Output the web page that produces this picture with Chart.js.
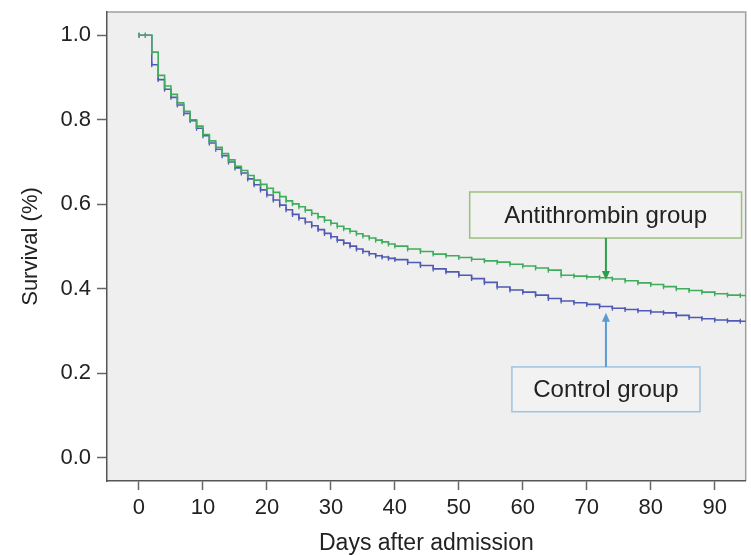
<!DOCTYPE html>
<html>
<head>
<meta charset="utf-8">
<script src="https://cdn.jsdelivr.net/npm/chart.js@4.4.1/dist/chart.umd.min.js"></script>
<style>
  html, body { margin: 0; padding: 0; background: #fff; }
  canvas { display: block; }
</style>
</head>
<body>
<canvas id="km" width="751" height="555"></canvas>
<script>
// follow-up days (step times) shared by both groups
const days = [
  0, 1, 2, 3, 4, 5, 6, 7, 8, 9, 10, 11, 12, 13, 14, 15, 16, 17, 18, 19, 20,
  21, 22, 23, 24, 25, 26, 27, 28, 29, 30, 31, 32, 33, 34, 35, 36, 37, 38, 39, 40,
  42, 44, 46, 48, 50, 52, 54, 56, 58, 60, 62, 64, 66, 68, 70, 72, 74, 76, 78,
  80, 82, 84, 86, 88, 90, 92, 94, 95
];

const antithrombin = [
  1.0, 1.0, 0.96, 0.905, 0.88, 0.86, 0.84, 0.82, 0.80, 0.785, 0.765,
  0.75, 0.735, 0.72, 0.705, 0.69, 0.68, 0.668, 0.657, 0.647, 0.638,
  0.628, 0.618, 0.608, 0.601, 0.594, 0.586, 0.578, 0.570, 0.562, 0.555,
  0.548, 0.542, 0.536, 0.530, 0.525, 0.520, 0.515, 0.511, 0.506, 0.501,
  0.494, 0.488, 0.482, 0.478, 0.474, 0.470, 0.466, 0.463, 0.458, 0.454,
  0.449, 0.444, 0.432, 0.430, 0.428, 0.426, 0.423, 0.419, 0.414, 0.410,
  0.405, 0.400, 0.396, 0.392, 0.388, 0.385, 0.384, 0.383
];

const control = [
  1.0, 1.0, 0.93, 0.895, 0.872, 0.853, 0.835, 0.815, 0.798, 0.78, 0.762,
  0.745, 0.73, 0.715, 0.70, 0.686, 0.674, 0.66, 0.646, 0.634, 0.622,
  0.61, 0.598, 0.587, 0.576, 0.567, 0.558, 0.549, 0.540, 0.531, 0.523,
  0.515, 0.508, 0.501, 0.494, 0.488, 0.483, 0.478, 0.475, 0.472, 0.469,
  0.462, 0.455, 0.447, 0.440, 0.432, 0.424, 0.415, 0.404, 0.397, 0.392,
  0.385, 0.377, 0.371, 0.367, 0.363, 0.358, 0.354, 0.351, 0.348, 0.345,
  0.343, 0.337, 0.332, 0.329, 0.326, 0.324, 0.323, 0.322
];

const xTicks = [0, 10, 20, 30, 40, 50, 60, 70, 80, 90];
const yTicks = [0.0, 0.2, 0.4, 0.6, 0.8, 1.0];

const GREEN = '#40ad5c';
const BLUE = '#5059b4';

Chart.defaults.font.family = "'Liberation Sans', Arial, sans-serif";
Chart.defaults.color = '#222';

function points(vals) {
  return days.map((d, i) => ({ x: d, y: vals[i] }));
}

// grey panel, light top/right frame, and the two labelled arrows
const panel = {
  id: 'panel',
  beforeDraw(chart) {
    const { ctx, chartArea: a } = chart;
    ctx.save();
    ctx.fillStyle = '#efefef';
    ctx.fillRect(a.left, a.top, a.right - a.left, a.bottom - a.top);
    ctx.strokeStyle = '#a0a0a0';
    ctx.lineWidth = 1.5;
    ctx.beginPath();
    ctx.moveTo(a.left, a.top);
    ctx.lineTo(a.right, a.top);
    ctx.lineTo(a.right, a.bottom);
    ctx.stroke();
    ctx.restore();
  },
  afterDatasetsDraw(chart) {
    const { ctx, scales: { x, y } } = chart;
    const notes = [
      { text: 'Antithrombin group', x0: 51.7, x1: 94.2, y0: 0.629, y1: 0.520,
        at: 73, tip: 0.421, border: '#9dbf7c', arrow: '#2ba14b' },
      { text: 'Control group', x0: 58.3, x1: 87.7, y0: 0.215, y1: 0.109,
        at: 73, tip: 0.343, border: '#9cc3e3', arrow: '#5b9bd5' }
    ];
    ctx.save();
    notes.forEach(n => {
      const l = x.getPixelForValue(n.x0), r = x.getPixelForValue(n.x1);
      const t = y.getPixelForValue(n.y0), b = y.getPixelForValue(n.y1);
      const ax = x.getPixelForValue(n.at), ay = y.getPixelForValue(n.tip);
      ctx.fillStyle = '#f2f2f2';
      ctx.fillRect(l, t, r - l, b - t);
      ctx.strokeStyle = n.border;
      ctx.lineWidth = 1.5;
      ctx.strokeRect(l, t, r - l, b - t);

      // arrow from the box edge to the curve
      const from = ay > b ? b : t;
      const dir = ay > from ? 1 : -1;
      ctx.strokeStyle = n.arrow;
      ctx.lineWidth = 2;
      ctx.beginPath();
      ctx.moveTo(ax, from);
      ctx.lineTo(ax, ay - dir * 7);
      ctx.stroke();
      ctx.fillStyle = n.arrow;
      ctx.beginPath();
      ctx.moveTo(ax, ay);
      ctx.lineTo(ax - 4, ay - dir * 9);
      ctx.lineTo(ax + 4, ay - dir * 9);
      ctx.closePath();
      ctx.fill();

      ctx.fillStyle = '#222';
      ctx.font = "24px 'Liberation Sans', Arial, sans-serif";
      ctx.textAlign = 'center';
      ctx.textBaseline = 'middle';
      ctx.fillText(n.text, (l + r) / 2, (t + b) / 2 + 1);
    });
    ctx.restore();
  }
};

new Chart(document.getElementById('km').getContext('2d'), {
  type: 'line',
  data: {
    datasets: [
      {
        label: 'Antithrombin group',
        data: points(antithrombin),
        borderColor: GREEN,
        borderWidth: 1.6,
        stepped: true,
        fill: false,
        pointStyle: 'line',
        rotation: 90,
        pointRadius: 2.5,
        pointBorderWidth: 1.3,
        pointBorderColor: GREEN
      },
      {
        label: 'Control group',
        data: points(control),
        borderColor: BLUE,
        borderWidth: 1.6,
        stepped: true,
        fill: false,
        pointStyle: 'line',
        rotation: 90,
        pointRadius: 2.5,
        pointBorderWidth: 1.3,
        pointBorderColor: BLUE
      }
    ]
  },
  options: {
    responsive: false,
    animation: false,
    layout: { padding: { left: 0, top: 12, right: 5, bottom: 0 } },
    plugins: { legend: { display: false }, tooltip: { enabled: false } },
    scales: {
      x: {
        type: 'linear',
        min: -5,
        max: 94.85,
        afterBuildTicks: s => { s.ticks = xTicks.map(v => ({ value: v })); },
        afterFit: s => { s.height = 74; s.paddingLeft = 0; s.paddingRight = 0; },
        grid: { drawOnChartArea: false, drawTicks: true, tickLength: 9, tickWidth: 1.5, tickColor: '#666' },
        border: { display: true, color: '#555', width: 1.5 },
        ticks: { font: { size: 22 }, padding: 5, color: '#222', maxRotation: 0 },
        title: { display: true, text: 'Days after admission', font: { size: 23, lineHeight: 1 }, color: '#222', padding: { top: 0, bottom: 0 } }
      },
      y: {
        min: -0.055,
        max: 1.055,
        afterBuildTicks: s => { s.ticks = yTicks.map(v => ({ value: v })); },
        afterFit: s => { s.width = 107; s.paddingTop = 0; s.paddingBottom = 0; },
        grid: { drawOnChartArea: false, drawTicks: true, tickLength: 10, tickWidth: 1.5, tickColor: '#666' },
        border: { display: true, color: '#555', width: 1.5 },
        ticks: { font: { size: 22 }, padding: 6, color: '#222', callback: v => v.toFixed(1) },
        title: { display: true, text: 'Survival (%)', font: { size: 22 }, color: '#222', padding: { top: 18, bottom: 0 } }
      }
    }
  },
  plugins: [panel]
});
</script>
</body>
</html>
